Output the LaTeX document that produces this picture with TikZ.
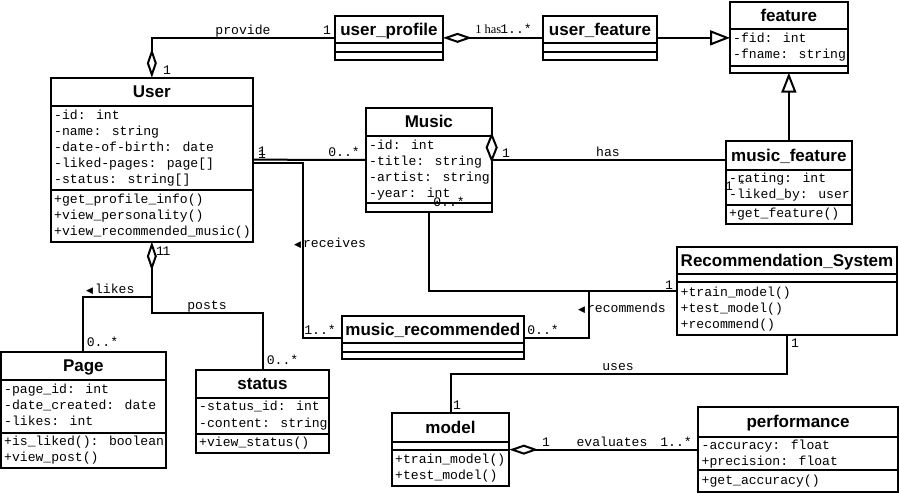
\documentclass[tikz,border=0pt]{standalone}
\usepackage{fontspec}
\setmainfont{Liberation Serif}
\newfontfamily\monof{Liberation Mono}
\newfontfamily\titlef{Liberation Sans}
\newfontfamily\symf{DejaVu Sans}
\usetikzlibrary{arrows.meta}
\tikzset{
  cls/.style={draw, rectangle, line width=2pt, inner sep=0pt, outer sep=0pt},
  divl/.style={line width=2pt},
  ttl/.style={font=\titlef\bfseries\fontsize{17}{20}\selectfont, inner sep=0pt},
  rowtxt/.style={font=\monof\fontsize{13.1}{15}\selectfont, inner sep=0pt, anchor=base west},
  lbl/.style={font=\monof\fontsize{13.1}{15}\selectfont, inner sep=0pt, anchor=base},
  slbl/.style={font=\rmfamily\fontsize{12.5}{15}\selectfont, inner sep=0pt, anchor=base},
  conn/.style={line width=2pt},
  agg/.style={conn, {Diamond[open,length=29pt,width=10pt]}-},
  gen/.style={conn, -{Triangle[open,length=20pt,width=15pt]}},
}
\newcommand\umlclass[7]{%
  \node[cls, anchor=north west, minimum width={#4pt-#2pt}, minimum height={#5pt-#3pt}] (#1) at (#2,#3) {};
  \draw[divl] (#2,#6) -- (#4,#6);
  \node[ttl, anchor=base] (#1-title) at ({(#2+#4)/2},{(#3+#6)/2+6.1}) {#7};
}
\newcommand\rowt[4]{\node[rowtxt] (#1) at (#2,#3+4) {#4};}
\newcommand\tri{{\symf\fontsize{9}{10}\selectfont ◀}}
\begin{document}
\begin{tikzpicture}[x=1pt,y=-1pt]
\useasboundingbox (0,0) rectangle (899,493);

% ---------- classes ----------
\umlclass{userprofile}{335}{15.7}{443}{60}{43.3}{user\_profile}
\draw[divl] (335,52) -- (443,52);

\umlclass{userfeature}{542.7}{15.7}{657.3}{60}{43.3}{user\_feature}
\draw[divl] (542.7,52) -- (657.3,52);

\umlclass{feature}{730}{1.5}{847.7}{72.7}{29.3}{feature}
\draw[divl] (730,65.7) -- (847.7,65.7);
\rowt{f1}{733}{38.3}{-fid: int}
\rowt{f2}{733}{54}{-fname: string}

\umlclass{User}{50.7}{77.7}{253}{241.7}{106}{User}
\draw[divl] (50.7,190) -- (253,190);
\rowt{u1}{54}{115}{-id: int}
\rowt{u2}{54}{131}{-name: string}
\rowt{u3}{54}{147}{-date-of-birth: date}
\rowt{u4}{54}{163}{-liked-pages: page[]}
\rowt{u5}{54}{179}{-status: string[]}
\rowt{u6}{54}{199.7}{+get\_profile\_info()}
\rowt{u7}{54}{215.3}{+view\_personality()}
\rowt{u8}{54}{231}{+view\_recommended\_music()}

\umlclass{Music}{366}{108}{491.7}{211.7}{135.7}{Music}
\draw[divl] (366,203) -- (491.7,203);
\rowt{m1}{369}{145}{-id: int}
\rowt{m2}{369}{161}{-title: string}
\rowt{m3}{369}{177}{-artist: string}
\rowt{m4}{369}{193}{-year: int}

\umlclass{musicfeature}{726}{140.7}{851.7}{224.3}{170}{music\_feature}
\draw[divl] (726,205) -- (851.7,205);
\rowt{mf1}{729}{178.3}{-rating: int}
\rowt{mf2}{729}{194.3}{-liked\_by: user}
\rowt{mf3}{729}{213.3}{+get\_feature()}

\umlclass{RecSys}{677.3}{246.7}{896.7}{335}{274.3}{Recommendation\_System}
\draw[divl] (677.3,281.7) -- (896.7,281.7);
\rowt{r1}{680.5}{292.3}{+train\_model()}
\rowt{r2}{680.5}{308.3}{+test\_model()}
\rowt{r3}{680.5}{324.7}{+recommend()}

\umlclass{musicrec}{341.7}{316}{524}{359.3}{343.3}{music\_recommended}
\draw[divl] (341.7,351.7) -- (524,351.7);

\umlclass{Page}{1}{351.7}{165.7}{468.3}{380}{Page}
\draw[divl] (1,432.7) -- (165.7,432.7);
\rowt{p1}{4}{389}{-page\_id: int}
\rowt{p2}{4}{405.3}{-date\_created: date}
\rowt{p3}{4}{421.3}{-likes: int}
\rowt{p4}{4}{441}{+is\_liked(): boolean}
\rowt{p5}{4}{457.3}{+view\_post()}

\umlclass{status}{195.7}{370}{329.3}{453.3}{397.7}{status}
\draw[divl] (195.7,434) -- (329.3,434);
\rowt{s1}{199}{406.7}{-status\_id: int}
\rowt{s2}{199}{423.3}{-content: string}
\rowt{s3}{199}{442.7}{+view\_status()}

\umlclass{model}{391.7}{413.3}{509.3}{486}{441.7}{model}
\draw[divl] (391.7,450) -- (509.3,450);
\rowt{mo1}{395}{459}{+train\_model()}
\rowt{mo2}{395}{475}{+test\_model()}

\umlclass{performance}{698.3}{406.7}{897.8}{491.7}{436.7}{performance}
\draw[divl] (698.3,470) -- (897.8,470);
\rowt{pf1}{701.5}{445}{-accuracy: float}
\rowt{pf2}{701.5}{461}{+precision: float}
\rowt{pf3}{701.5}{480.7}{+get\_accuracy()}

% ---------- connectors ----------
% provide
\draw[conn, -{Diamond[open,length=29pt,width=10pt]}] (userprofile.west) -| (User.north);
\node[lbl] (lprov) at (243,34) {provide};
\node[lbl] (lprov1) at (327,34) {1};
\node[lbl] (lprov2) at (167,74) {1};

% user_profile has user_feature
\draw[agg] (userprofile.east) -- (userfeature.west);
\node[slbl] (lhas1) at (478.5,33.5) {1};
\node[slbl] (lhas) at (493,33.5) {has};
\node[lbl] (lhas2) at (516,33.5) {1..*};

% generalizations
\draw[gen] (userfeature.east) -- (userfeature.east -| feature.west);
\draw[gen] (musicfeature.north) -- (feature.south);

% User -- Music
\draw[conn] (User.east) -- (Music.west);
\node[lbl] (lum1) at (262,155) {1};
\node[lbl] (lum2) at (262,158.5) {1};
\node[lbl] (lum3) at (344,156) {0..*};

% receives
\draw[conn] ([yshift=-3.5pt]User.east) -- ++(49.7,0) |- (musicrec.west);
\node[inner sep=0pt, anchor=base west] (lrec) at (294,247) {\tri\hspace{2pt}{\monof\fontsize{13.1}{15}\selectfont receives}};
\node[lbl] (lrec2) at (320,334) {1..*};

% Music has music_feature
\draw[conn] (Music.east) -- (Music.east -| musicfeature.west);
\draw[line width=2pt, fill=white] (491.7,135) -- (496.7,147.5) -- (491.7,160) -- (486.7,147.5) -- cycle;
\node[lbl] (lmh1) at (506,157) {1};
\node[lbl] (lmh) at (608,156) {has};
\node[lbl] (lmh2) at (729,190) {1};
\node[lbl] (lmh3) at (742,189) {*};

% Music -- RecSys
\draw[conn] (Music.south) |- (RecSys.west);
\node[lbl] (lmr1) at (449,206) {0..*};
\node[lbl] (lmr2) at (669,289) {1};

% recommends
\coordinate (recj) at (589,290.85);
\draw[conn] (musicrec.east) -| (recj);
\node[inner sep=0pt, anchor=base west] (lrcm) at (578,312.3) {\tri\hspace{2pt}{\monof\fontsize{13.1}{15}\selectfont recommends}};
\node[lbl] (lrcm2) at (543,334) {0..*};

% uses
\draw[conn] (RecSys.south) -- ++(0,39) -| (model.north);
\node[lbl] (luse) at (618,370.5) {uses};
\node[lbl] (luse1) at (795,347) {1};
\node[lbl] (luse2) at (457,409) {1};

% evaluates
\draw[agg] (model.east) -- (model.east -| performance.west);
\node[lbl] (lev1) at (546,446) {1};
\node[lbl] (lev) at (612,446) {evaluates};
\node[lbl] (lev2) at (676,446) {1..*};

% likes / posts
\draw[agg] (User.south) -- ++(0,55) -| (Page.north);
\draw[conn] ([yshift=-29pt]User.south) -- ++(0,42) -| (status.north);
\node[inner sep=0pt, anchor=base west] (llik) at (86,293.3) {\tri\hspace{2pt}{\monof\fontsize{13.1}{15}\selectfont likes}};
\node[lbl] (lpos) at (207,309) {posts};
\node[lbl] (lpg) at (102.5,346.7) {0..*};
\node[lbl] (lst) at (282.5,364.7) {0..*};
\node[lbl] (lu11) at (160,255) {1};
\node[lbl] (lu12) at (166.5,255) {1};
\end{tikzpicture}
\end{document}
